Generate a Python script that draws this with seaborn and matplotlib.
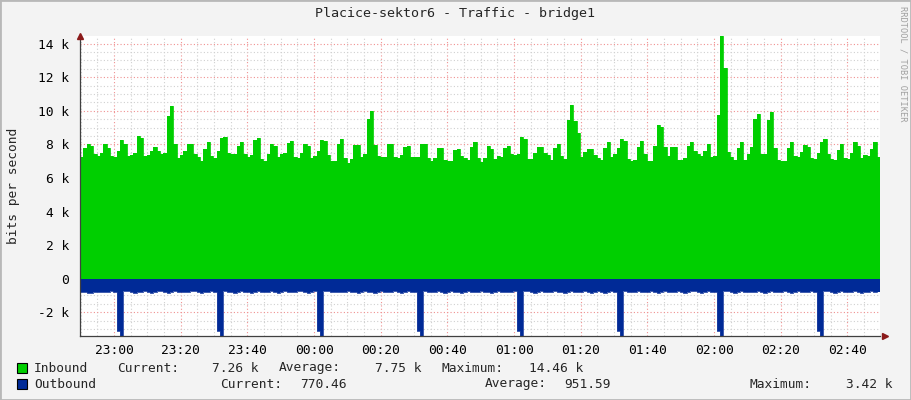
import matplotlib
matplotlib.use("Agg")
import matplotlib.pyplot as plt
import matplotlib.dates as mdates
from matplotlib.ticker import MultipleLocator, FuncFormatter
from matplotlib.patches import Rectangle
import numpy as np
import pandas as pd
import seaborn as sns

# one sample per minute, values in k bits/s
start_time = '2024-01-01 22:49:48'
inbound = [
    7.26, 7.80, 8.00, 7.90, 7.40, 7.30, 7.50, 8.00, 7.80, 7.30,
    7.25, 7.60, 8.26, 8.05, 7.32, 7.35, 7.50, 8.48, 8.40, 7.30,
    7.35, 7.60, 7.85, 7.60, 7.40, 7.50, 9.70, 10.30, 8.00, 7.20,
    7.35, 7.60, 8.00, 8.00, 7.40, 7.25, 7.00, 7.75, 8.16, 7.30,
    7.20, 7.60, 8.40, 8.44, 7.50, 7.40, 7.44, 7.90, 8.16, 7.40,
    7.26, 7.35, 8.26, 8.40, 7.10, 7.00, 7.42, 8.02, 7.92, 7.26,
    7.40, 7.46, 8.10, 8.20, 7.26, 7.20, 7.46, 8.00, 7.92, 7.16,
    7.32, 7.60, 8.26, 8.20, 7.36, 7.00, 7.00, 8.00, 8.32, 7.20,
    6.88, 7.12, 7.96, 7.96, 7.26, 7.44, 9.50, 10.00, 7.96, 7.30,
    7.22, 7.26, 8.00, 8.00, 7.26, 7.20, 7.36, 7.84, 7.92, 7.26,
    7.26, 7.26, 8.00, 8.00, 7.16, 7.00, 7.16, 7.76, 7.80, 7.06,
    7.02, 7.02, 7.66, 7.72, 7.32, 7.16, 7.06, 7.86, 8.16, 7.20,
    6.96, 7.20, 7.90, 7.72, 7.15, 7.30, 7.26, 7.80, 7.90, 7.40,
    7.36, 7.42, 8.44, 8.34, 7.12, 7.12, 7.46, 7.84, 7.84, 7.46,
    7.36, 7.06, 7.80, 8.02, 7.32, 7.12, 9.46, 10.36, 9.40, 8.70,
    7.26, 7.52, 7.72, 7.72, 7.36, 7.20, 7.06, 7.80, 8.12, 7.26,
    7.42, 7.80, 8.32, 8.20, 7.12, 7.00, 7.06, 7.86, 8.20, 7.40,
    7.00, 7.00, 7.92, 9.16, 9.06, 7.86, 7.32, 7.86, 7.86, 7.06,
    7.06, 7.20, 7.90, 8.12, 7.60, 7.40, 7.33, 7.60, 8.00, 7.26,
    7.30, 9.76, 14.46, 12.56, 7.56, 7.26, 7.06, 7.76, 8.12, 7.06,
    7.45, 7.86, 9.50, 9.80, 7.42, 7.42, 9.46, 9.92, 7.80, 7.06,
    7.00, 7.00, 7.80, 8.12, 7.30, 7.26, 7.56, 7.96, 7.82, 7.20,
    7.14, 7.46, 8.12, 8.32, 7.42, 7.10, 7.06, 7.66, 8.00, 7.20,
    7.10, 7.46, 8.12, 7.90, 7.20, 7.36, 7.32, 7.72, 8.12, 7.26,
]
outbound = [
    -0.78, -0.80, -0.84, -0.84, -0.79, -0.77, -0.77, -0.82, -0.79, -0.76,
    -0.78, -3.10, -3.42, -0.74, -0.76, -0.78, -0.84, -0.80, -0.77, -0.76,
    -0.79, -0.84, -0.78, -0.76, -0.75, -0.79, -0.83, -0.77, -0.76, -0.78,
    -0.77, -0.82, -0.79, -0.75, -0.76, -0.80, -0.84, -0.78, -0.77, -0.76,
    -0.79, -3.12, -3.42, -0.75, -0.77, -0.80, -0.84, -0.78, -0.76, -0.77,
    -0.80, -0.84, -0.79, -0.76, -0.77, -0.81, -0.78, -0.76, -0.78, -0.83,
    -0.78, -0.76, -0.77, -0.82, -0.80, -0.76, -0.75, -0.79, -0.84, -0.78,
    -0.76, -3.10, -3.42, -0.73, -0.76, -0.79, -0.78, -0.77, -0.82, -0.80,
    -0.76, -0.77, -0.79, -0.84, -0.78, -0.76, -0.77, -0.80, -0.84, -0.79,
    -0.75, -0.77, -0.80, -0.78, -0.76, -0.82, -0.83, -0.77, -0.76, -0.78,
    -0.79, -3.11, -3.42, -0.74, -0.77, -0.82, -0.79, -0.76, -0.77, -0.84,
    -0.79, -0.76, -0.78, -0.80, -0.83, -0.77, -0.76, -0.78, -0.82, -0.79,
    -0.76, -0.77, -0.80, -0.84, -0.78, -0.76, -0.79, -0.82, -0.78, -0.77,
    -0.76, -3.10, -3.42, -0.75, -0.76, -0.80, -0.84, -0.79, -0.76, -0.77,
    -0.82, -0.80, -0.76, -0.77, -0.79, -0.84, -0.78, -0.76, -0.77, -0.80,
    -0.78, -0.76, -0.82, -0.83, -0.77, -0.76, -0.79, -0.84, -0.78, -0.76,
    -0.77, -3.12, -3.42, -0.74, -0.77, -0.80, -0.78, -0.76, -0.82, -0.80,
    -0.77, -0.76, -0.79, -0.84, -0.79, -0.76, -0.77, -0.81, -0.78, -0.76,
    -0.78, -0.83, -0.79, -0.76, -0.75, -0.80, -0.84, -0.78, -0.76, -0.77,
    -0.79, -3.10, -3.42, -0.74, -0.76, -0.79, -0.84, -0.80, -0.76, -0.77,
    -0.80, -0.82, -0.78, -0.76, -0.77, -0.84, -0.80, -0.76, -0.77, -0.79,
    -0.78, -0.76, -0.80, -0.84, -0.78, -0.76, -0.77, -0.82, -0.79, -0.76,
    -0.77, -3.11, -3.42, -0.74, -0.76, -0.80, -0.84, -0.78, -0.76, -0.77,
    -0.82, -0.79, -0.76, -0.78, -0.84, -0.80, -0.77, -0.76, -0.79, -0.77,
]
title = 'Placice-sektor6 - Traffic - bridge1'
legend_rows = [
    ('Inbound', '#00CF00', [('Current:', 117), ('7.26 k', 212), ('Average:', 279),
                            ('7.75 k', 375), ('Maximum:', 441), ('14.46 k', 529)]),
    ('Outbound', '#002A97', [('Current:', 220), ('770.46', 300), ('Average:', 485),
                             ('951.59', 564), ('Maximum:', 750), ('3.42 k', 846)]),
]

sns.set_style('white')
plt.rcParams['font.family'] = ['DejaVu Sans Mono']
FS = 9.3

times = pd.date_range(start_time, periods=len(inbound) + 1, freq='min')
df = pd.DataFrame({'time': times[:-1], 'inbound': inbound, 'outbound': outbound})

fig = plt.figure(figsize=(9.11, 4.0), dpi=100, facecolor='#F3F3F3')
ax = fig.add_axes([80 / 911, 64 / 400, 800 / 911, 300 / 400])
ax.set_facecolor('white')

inb = np.append(df['inbound'].values, df['inbound'].values[-1])
outb = np.append(df['outbound'].values, df['outbound'].values[-1])
ax.fill_between(times, 0, inb, step='post', color='#00CF00', lw=0, zorder=3)
ax.fill_between(times, 0, outb, step='post', color='#002A97', lw=0, zorder=3)
sns.lineplot(data=df, x='time', y='inbound', drawstyle='steps-post', color='#00CF00',
             lw=0.6, ax=ax, zorder=3)
sns.lineplot(data=df, x='time', y='outbound', drawstyle='steps-post', color='#1E3FA0',
             lw=0.6, ax=ax, zorder=3)

ax.set_xlim(times[0], times[-1])
ax.set_ylim(-3.42, 14.46)

ax.xaxis.set_major_locator(mdates.MinuteLocator(byminute=[0, 20, 40]))
ax.xaxis.set_minor_locator(mdates.MinuteLocator(byminute=range(0, 60, 5)))
ax.xaxis.set_major_formatter(mdates.DateFormatter('%H:%M'))
ax.yaxis.set_major_locator(MultipleLocator(2))
ax.yaxis.set_minor_locator(MultipleLocator(0.5))
ax.yaxis.set_major_formatter(FuncFormatter(lambda v, p: '0' if abs(v) < 1e-9 else f'{v:g} k'))

ax.grid(which='minor', color='#D0D0D0', ls=(0, (1, 2)), lw=0.8, zorder=1)
ax.grid(which='major', color='#F09090', ls=(0, (1, 2)), lw=0.8, zorder=1)
ax.set_axisbelow(True)

for s in ['top', 'right']:
    ax.spines[s].set_visible(False)
for s in ['left', 'bottom']:
    ax.spines[s].set_color('#404040')
    ax.spines[s].set_linewidth(0.9)
    ax.spines[s].set_zorder(4)

ax.tick_params(which='both', direction='out', color='#606060', labelsize=FS, labelcolor='black')
ax.tick_params(axis='y', which='major', length=3, pad=5)
ax.tick_params(axis='y', which='minor', length=2)
ax.tick_params(axis='x', which='major', length=3, pad=3)
ax.tick_params(axis='x', which='minor', length=2)
ax.set_xlabel('')
ax.set_ylabel('bits per second', fontsize=FS, labelpad=13)

# axis arrows
ax.plot([0], [1.0], marker='^', color='#8B1A1A', ms=4, transform=ax.transAxes, clip_on=False, zorder=5)
ax.plot([1.006], [0], marker='>', color='#8B1A1A', ms=4, transform=ax.transAxes, clip_on=False, zorder=5)

fig.text(455 / 911, 1 - 14 / 400, title, ha='center', va='center', fontsize=9.6)
fig.text(903 / 911, 1 - 6 / 400, 'RRDTOOL / TOBI OETIKER', rotation=270, ha='center', va='top',
         fontsize=6.2, color='#A0A0A0')

for i, (name, color, items) in enumerate(legend_rows):
    yc = 368 + 16 * i
    fig.patches.append(Rectangle((17 / 911, 1 - (yc + 5) / 400), 10 / 911, 10 / 400,
                                 transform=fig.transFigure, facecolor=color,
                                 edgecolor='black', lw=0.8))
    fig.text(34 / 911, 1 - yc / 400, name, ha='left', va='center', fontsize=FS)
    for txt, xp in items:
        fig.text(xp / 911, 1 - yc / 400, txt, ha='left', va='center', fontsize=FS)

fig.patches.append(Rectangle((0, 0), 1, 1, transform=fig.transFigure, fill=False,
                             edgecolor='#B8B8B8', lw=2))

fig.savefig('out.png', dpi=100, facecolor=fig.get_facecolor())
